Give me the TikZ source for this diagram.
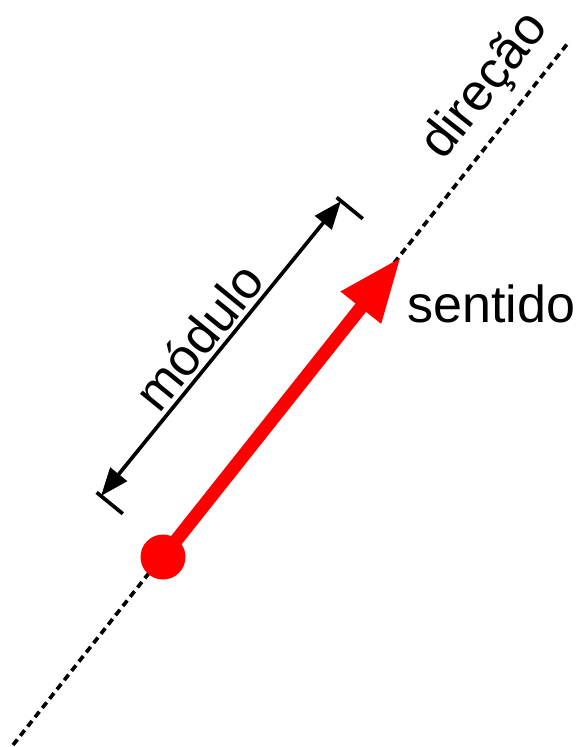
\documentclass[tikz,border=0pt]{standalone}
\usepackage{fontspec}
\setmainfont{Liberation Sans}
\usetikzlibrary{arrows.meta,calc}

\tikzset{
  lbl/.style={font=\fontsize{37}{44}\selectfont, inner sep=0pt},
  vec/.style={red, line width=9.5pt, -{Triangle[length=46pt,width=34pt]}},
  dimline/.style={line width=2.6pt,
    {Triangle[length=20pt,width=15pt]}-{Triangle[length=20pt,width=15pt]}},
  dimtick/.style={line width=2.6pt},
  dirline/.style={line width=2.6pt, dash pattern=on 5pt off 3.4pt},
  dot/.style={circle, fill=red, inner sep=0pt, minimum size=32pt}
}

\begin{document}
\begin{tikzpicture}[x=0.025cm,y=-0.025cm]
\useasboundingbox (0,0) rectangle (577,747);

\coordinate (dirA) at (13,745);
\coordinate (dirB) at (568,43);
\coordinate (tip) at (401,257);
\coordinate (dimA) at (101,496);
\coordinate (dimB) at (341,201);

% line of action
\draw[dirline] (dirA) -- (dirB);
\path (dirA) -- (dirB) node[lbl, sloped, pos=.905, anchor=base, yshift=17pt] (dir) {direção};

% the vector
\draw[vec] (163,557) -- (tip);
\node[dot] (origin) at (163,557) {};
\node[lbl, anchor=base west] (sense) at (407,322) {sentido};

% magnitude
\draw[dimline] (dimA) -- (dimB);
\draw[dimtick] ($(dimA)!4pt!90:(dimB)$) -- ($(dimA)!20pt!-90:(dimB)$);
\draw[dimtick] ($(dimB)!4pt!-90:(dimA)$) -- ($(dimB)!20pt!90:(dimA)$);
\path (dimA) -- (dimB) node[lbl, sloped, pos=.487, anchor=base, yshift=4.3pt] (mag) {módulo};
\end{tikzpicture}
\end{document}
